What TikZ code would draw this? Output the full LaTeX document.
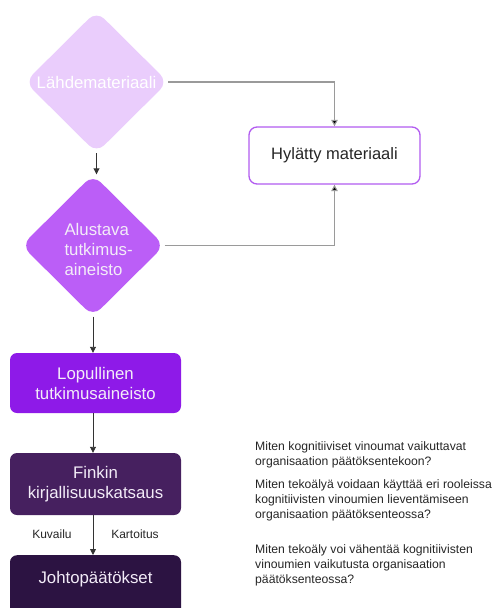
\documentclass[tikz,border=0pt]{standalone}
\usepackage{fontspec}
\setmainfont{Liberation Sans}
\usetikzlibrary{shapes.geometric,arrows.meta}
\definecolor{cdA}{HTML}{EACDFC}
\definecolor{cdB}{HTML}{BB5EF7}
\definecolor{cbA}{HTML}{8E1AE8}
\definecolor{cbB}{HTML}{46205F}
\definecolor{cbC}{HTML}{2C1342}
\definecolor{chyl}{HTML}{B25CF0}
\definecolor{cline}{HTML}{9A9A9A}
\definecolor{cdark}{HTML}{333333}
\definecolor{ctext}{HTML}{F3ECF8}
\begin{document}
\begin{tikzpicture}[x=1pt,y=-1pt,
  dia/.style={shape=diamond, minimum width=143pt, minimum height=142pt, inner sep=0pt, rounded corners=11pt, draw=none},
  bigtxt/.style={font=\fontsize{16.8}{20}\selectfont, text=ctext},
  flowbox/.style={rectangle, rounded corners=7pt, minimum width=171pt, inner sep=0pt, align=center, font=\fontsize{16.8}{20}\selectfont, text=ctext},
  flowarrow/.style={draw=cdark, line width=0.9pt, -{Triangle[length=6pt,width=6pt]}},
  sidearrow/.style={draw=cline, line width=1.1pt, -{Triangle[length=6.5pt,width=6.5pt,fill=black]}},
  qtext/.style={anchor=north west, inner sep=0pt, align=left, font=\fontsize{12.2}{15}\selectfont, text=black!85},
  lbl/.style={anchor=base, font=\fontsize{12}{14}\selectfont, text=black!85}]
\useasboundingbox (0,0) rectangle (495,608);
\clip (0,0) rectangle (495,608);

% diamonds
\node[dia, fill=cdA] (d1) at (96.5,82) {};
\node[bigtxt, text=white] (d1t) at (d1.center) {Lähdemateriaali};
\node[dia, fill=cdB] (d2) at (93,245.5) {};
\node[bigtxt, anchor=west, align=left] (d2t) at (61,249) {Alustava\\tutkimus-\\aineisto};

% rejected box
\node[rectangle, rounded corners=8pt, draw=chyl, line width=1.3pt, fill=white,
      minimum width=171pt, minimum height=57pt, font=\fontsize{16.5}{20}\selectfont, text=black!85] (hyl) at (334.5,155.5) {Hylätty materiaali};

% flow boxes
\node[flowbox, fill=cbA, minimum height=60pt] (lop) at (95.5,383) {Lopullinen\\tutkimusaineisto};
\node[flowbox, fill=cbB, minimum height=62pt] (fin) at (95.5,484) {Finkin\\kirjallisuuskatsaus};
\node[flowbox, fill=cbC, minimum height=66pt, anchor=north] (joh) at (95.5,555) {};
\node[bigtxt] (joht) at (95.5,579) {Johtopäätökset};

% connectors
\draw[flowarrow] (d1.south) -- (d1.south |- d2.north);
\draw[flowarrow] (d2.south) -- (d2.south |- lop.north);
\draw[flowarrow] (d2.south |- lop.south) -- (d2.south |- fin.north);
\draw[flowarrow] (d2.south |- fin.south) -- (d2.south |- joh.north);
\draw[sidearrow] (d1.east) -| (hyl.north);
\draw[sidearrow] (d2.east) -| (hyl.south);

% edge labels
\node[lbl] (kuv) at (52,538) {Kuvailu};
\node[lbl] (kar) at (135,538) {Kartoitus};

% questions
\node[qtext] (q1) at (255,441.5) {Miten kognitiiviset vinoumat vaikuttavat\\organisaation päätöksentekoon?};
\node[qtext] (q2) at (255,479.5) {Miten tekoälyä voidaan käyttää eri rooleissa\\kognitiivisten vinoumien lieventämiseen\\organisaation päätöksenteossa?};
\node[qtext] (q3) at (255,544.5) {Miten tekoäly voi vähentää kognitiivisten\\vinoumien vaikutusta organisaation\\päätöksenteossa?};
\end{tikzpicture}
\end{document}
